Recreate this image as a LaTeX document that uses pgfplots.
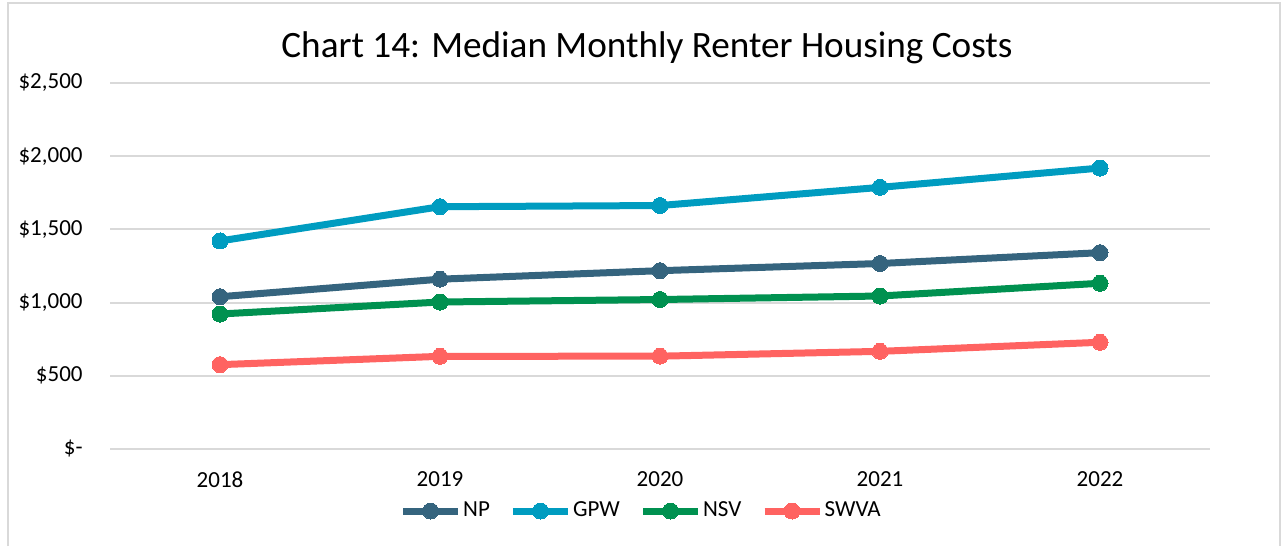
\documentclass[border=0pt]{standalone}
\usepackage{fontspec}
\setmainfont{Carlito}
\usepackage{pgfplots}
\pgfplotsset{compat=1.18}
\definecolor{npc}{HTML}{35647E}
\definecolor{gpwc}{HTML}{009CC0}
\definecolor{nsvc}{HTML}{009150}
\definecolor{swvac}{HTML}{FF6361}
\definecolor{gridc}{HTML}{D9D9D9}
\begin{document}
\begin{tikzpicture}[x=0.5pt,y=0.5pt]
\useasboundingbox (0,0) rectangle (1284,546);
\draw[gridc, line width=1pt] (8,0) -- (8,543) -- (1280,543) -- (1280,0);
\node[font=\fontsize{18.6}{22}\selectfont, inner sep=0pt] at (647,498) {Chart 14: Median Monthly Renter Housing Costs};
\begin{axis}[
  at={(55pt,48.5pt)}, anchor=south west,
  scale only axis, width=550pt, height=183pt,
  xmin=-0.5, xmax=4.5, ymin=0, ymax=2500,
  clip=false,
  axis line style={draw=none},
  major tick length=0pt,
  ymajorgrids, grid style={gridc, line width=1pt},
  xtick={0,1,2,3,4}, xticklabels={2018,2019,2020,2021,2022},
  ytick={0,500,1000,1500,2000,2500},
  yticklabels={{\$-\hspace{14pt}},{\$500},{\$1,000},{\$1,500},{\$2,000},{\$2,500}},
  ticklabel style={font=\fontsize{11.5}{13}\selectfont, inner sep=0pt},
  yticklabel style={anchor=east, xshift=-13.5pt},
  xticklabel style={anchor=north, yshift=-11pt},
  every axis plot/.append style={line width=3.5pt, mark=*, mark size=4pt},
  legend columns=4,
  legend style={draw=none, fill=none, at={(axis description cs:0.4827,-0.1694)}, anchor=center,
    font=\fontsize{11.5}{13}\selectfont, inner sep=0pt, nodes={inner sep=0.8pt},
    /tikz/every even column/.append style={column sep=9pt}},
  legend cell align=left,
  legend image code/.code={\draw[mark repeat=2,mark phase=2,#1] plot coordinates {(0pt,0pt) (13.75pt,0pt) (27.5pt,0pt)};},
]
\addplot[npc, mark options={fill=npc, draw=npc, line width=0pt}] coordinates {(0,1040) (1,1160) (2,1218) (3,1267) (4,1341)};
\addlegendentry{NP}
\addplot[gpwc, mark options={fill=gpwc, draw=gpwc, line width=0pt}] coordinates {(0,1421) (1,1655) (2,1663) (3,1787) (4,1919)};
\addlegendentry{GPW}
\addplot[nsvc, mark options={fill=nsvc, draw=nsvc, line width=0pt}] coordinates {(0,922) (1,1004) (2,1021) (3,1045) (4,1132)};
\addlegendentry{NSV}
\addplot[swvac, mark options={fill=swvac, draw=swvac, line width=0pt}] coordinates {(0,576) (1,633) (2,634) (3,667) (4,729)};
\addlegendentry{SWVA}
\end{axis}
\end{tikzpicture}
\end{document}
